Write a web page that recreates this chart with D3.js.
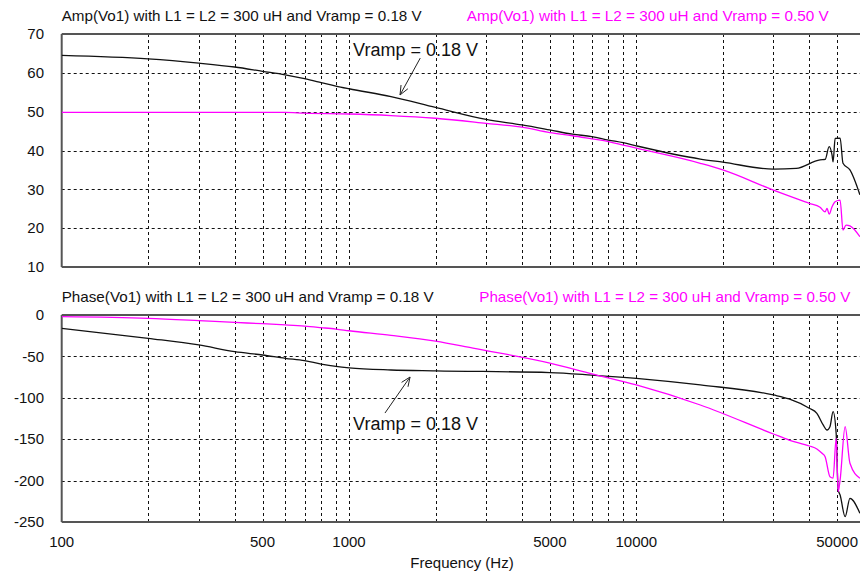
<!DOCTYPE html>
<html><head><meta charset="utf-8">
<script src="https://cdn.jsdelivr.net/npm/d3@7"></script>
<style>
html,body{margin:0;padding:0;background:#fff;}
svg{display:block;font-family:"Liberation Sans",Arial,sans-serif;}
</style></head>
<body>
<svg id="chart" width="860" height="576"></svg>
<script>
// ---------- data ----------
const xTickLabels = [100, 500, 1000, 5000, 10000, 50000];
const ampTicks = [70, 60, 50, 40, 30, 20, 10];
const phaseTicks = [0, -50, -100, -150, -200, -250];

// Amp, Vramp = 0.18 V (black)
const ampLowFreq = [100,200,300,400,500,600,700,800,900,1000,1400,2000,3000,4000,5000,6000,7000,8000,9000,10000,16700,20000,30000,36000,43600,45400,46900,48000,48400,49200,51200,52400,55400,60000];
const ampLow     = [64.5,63.6,62.5,61.5,60.4,59.5,58.5,57.5,56.6,55.9,53.9,51.1,48.0,46.6,45.3,44.2,43.6,42.7,42.0,41.2,37.8,37.0,35.2,35.4,37.6,37.7,41.0,38.8,37.1,43.1,43.2,36.7,35.0,28.6];

// Amp, Vramp = 0.50 V (magenta)
const ampHighFreq = [100,300,600,700,1000,1400,2000,3000,4000,5000,6000,7000,8000,9000,10000,16700,20000,30000,40000,43600,45400,46100,46900,48000,49200,51200,52400,53700,55400,60000];
const ampHigh     = [49.8,49.8,49.8,49.6,49.4,49.0,48.3,47.0,46.0,44.6,43.8,43.0,42.3,41.4,40.6,36.7,35.0,29.8,26.4,25.4,24.2,25.1,23.6,25.5,26.8,27.2,19.5,20.8,20.6,17.8];

// Phase, Vramp = 0.18 V (black)
const phaseLowFreq = [100,200,300,400,500,600,700,800,900,1000,1400,2000,5000,7000,10000,16700,30000,34000,40000,42500,44700,46100,47200,48400,49600,50400,51200,53300,55400,60000];
const phaseLow     = [-16.1,-28.2,-36.2,-44.3,-48.3,-52.3,-55.2,-59.2,-62.0,-63.8,-66.4,-67.5,-69.5,-72.5,-76.5,-84.5,-96.6,-101.4,-112.7,-118.7,-132.8,-138.9,-134.9,-116.8,-142.9,-211.3,-217.4,-243.6,-221.4,-239.5];

// Phase, Vramp = 0.50 V (magenta)
const phaseHighFreq = [100,200,300,400,500,600,700,800,900,1000,1400,2000,2700,5000,7000,10000,16700,30000,34000,40000,42500,44300,45400,47200,48400,49600,50000,50400,51200,53300,55400,60000];
const phaseHigh     = [-2.0,-4.0,-6.8,-9.0,-10.5,-12.0,-13.5,-15.3,-17.0,-19.0,-24.5,-31.5,-40.0,-58,-71,-84.5,-108.7,-143.7,-151,-158.2,-161.8,-167,-171.1,-195.3,-196.9,-148.9,-178.9,-213.4,-199.3,-134.9,-179.1,-197.2];

const titles = {
  ampLow: "Amp(Vo1) with L1 = L2 = 300 uH and Vramp = 0.18 V",
  ampHigh: "Amp(Vo1) with L1 = L2 = 300 uH and Vramp = 0.50 V",
  phaseLow: "Phase(Vo1) with L1 = L2 = 300 uH and Vramp = 0.18 V",
  phaseHigh: "Phase(Vo1) with L1 = L2 = 300 uH and Vramp = 0.50 V"
};
const annotationText = "Vramp = 0.18 V";
const xLabel = "Frequency (Hz)";

// ---------- drawing ----------
const svg = d3.select("#chart");
const MAG = "#ff00ff";

const x = d3.scaleLog().domain([100, 60000]).range([61.7, 859.9]);
const yAmp = d3.scaleLinear().domain([10, 70]).range([267, 34]);
const yPh = d3.scaleLinear().domain([-250, 0]).range([522, 315]);

const snap = v => Math.round(v) + 0.5;
const gridFreqs = x.ticks().filter(f => f > 100 && f <= 50000);

function panel(y, hTicks, clipId) {
  const g = svg.append("g");
  const [y0, y1] = y.range(); // bottom, top
  g.selectAll(null).data(gridFreqs).join("line")
    .attr("x1", d => snap(x(d))).attr("x2", d => snap(x(d)))
    .attr("y1", y1).attr("y2", y0)
    .attr("stroke", "#111").attr("stroke-width", 1).attr("stroke-dasharray", "3,3");
  const dom = y.domain();
  g.selectAll(null).data(hTicks.filter(t => t > dom[0] && t < dom[1])).join("line")
    .attr("x1", x.range()[0]).attr("x2", 860)
    .attr("y1", d => snap(y(d))).attr("y2", d => snap(y(d)))
    .attr("stroke", "#111").attr("stroke-width", 1).attr("stroke-dasharray", "3,3");
  g.append("line").attr("x1", x.range()[0]).attr("x2", 860).attr("y1", y1).attr("y2", y1)
    .attr("stroke", "#555").attr("stroke-width", 2);
  g.append("line").attr("x1", x.range()[0]).attr("x2", 860).attr("y1", y0).attr("y2", y0)
    .attr("stroke", "#555").attr("stroke-width", 2);
  g.append("line").attr("x1", x.range()[0]).attr("x2", x.range()[0]).attr("y1", y1).attr("y2", y0)
    .attr("stroke", "#555").attr("stroke-width", 2);
  g.selectAll(null).data(hTicks).join("text")
    .attr("x", 44).attr("y", d => y(d)).attr("dy", "0.35em")
    .attr("text-anchor", "end").attr("font-size", 15).attr("fill", "#111")
    .text(d => d);
  svg.append("clipPath").attr("id", clipId).append("rect")
    .attr("x", x.range()[0]).attr("y", y1).attr("width", 860 - x.range()[0]).attr("height", y0 - y1);
}

panel(yAmp, ampTicks, "clipA");
panel(yPh, phaseTicks, "clipP");

function curve(freqs, vals, y, color, clipId) {
  const data = freqs.map((f, i) => [f, vals[i]]);
  svg.append("path").datum(data)
    .attr("clip-path", `url(#${clipId})`)
    .attr("fill", "none").attr("stroke", color).attr("stroke-width", 1.3)
    .attr("stroke-linejoin", "round")
    .attr("d", d3.line().curve(d3.curveMonotoneX).x(d => x(d[0])).y(d => y(d[1])));
}
curve(ampLowFreq, ampLow, yAmp, "#111", "clipA");
curve(ampHighFreq, ampHigh, yAmp, MAG, "clipA");
curve(phaseLowFreq, phaseLow, yPh, "#111", "clipP");
curve(phaseHighFreq, phaseHigh, yPh, MAG, "clipP");

function title(txt, xPos, yPos, color, len) {
  svg.append("text").attr("x", xPos).attr("y", yPos)
    .attr("font-size", 15).attr("fill", color)
    .attr("textLength", len).attr("lengthAdjust", "spacingAndGlyphs")
    .text(txt);
}
title(titles.ampLow, 61.7, 21, "#111", 360);
title(titles.ampHigh, 466.7, 21, MAG, 362);
title(titles.phaseLow, 61.7, 302, "#111", 372);
title(titles.phaseHigh, 479.3, 302, MAG, 371);

svg.selectAll(null).data(xTickLabels).join("text")
  .attr("x", d => x(d)).attr("y", 547)
  .attr("text-anchor", "middle").attr("font-size", 15).attr("fill", "#111")
  .text(d => d);
svg.append("text").attr("x", 462).attr("y", 568)
  .attr("text-anchor", "middle").attr("font-size", 15).attr("fill", "#111")
  .text(xLabel);

function annotate(y, textF, textV, tailF, tailV, tipF, tipV) {
  svg.append("text").attr("x", x(textF)).attr("y", y(textV)).attr("dy", "0.35em")
    .attr("font-size", 18).attr("fill", "#111").text(annotationText);
  const x1 = x(tailF), y1 = y(tailV), x2 = x(tipF), y2 = y(tipV);
  svg.append("line").attr("x1", x1).attr("y1", y1).attr("x2", x2).attr("y2", y2)
    .attr("stroke", "#222").attr("stroke-width", 1);
  const ang = Math.atan2(y2 - y1, x2 - x1), L = 10, spread = 0.4;
  const p = a => [x2 - L * Math.cos(a), y2 - L * Math.sin(a)];
  const a1 = p(ang + spread), a2 = p(ang - spread);
  svg.append("path")
    .attr("d", `M${a1[0]},${a1[1]}L${x2},${y2}L${a2[0]},${a2[1]}`)
    .attr("fill", "none").attr("stroke", "#222").attr("stroke-width", 1);
}
annotate(yAmp, 1033, 65.9, 1770, 63.8, 1505, 54.3);
annotate(yPh, 1033, -131.6, 1334, -118.4, 1631, -74.9);
</script>
</body></html>
